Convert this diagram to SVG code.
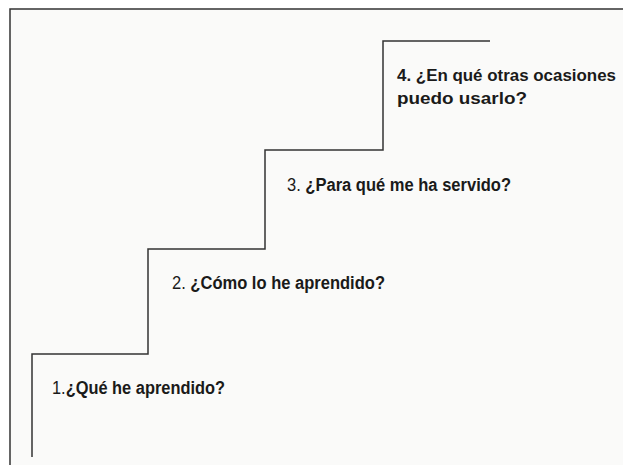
<svg xmlns="http://www.w3.org/2000/svg" width="623" height="465" viewBox="0 0 623 465">
<style>
.t{font-family:"Liberation Sans",Arial,sans-serif;font-size:18px;font-weight:bold;fill:#1a1a1a}
.s{font-size:17px}
.n{font-weight:normal}
.stair{fill:none;stroke:#333;stroke-width:1.5}
</style>
<rect x="0" y="0" width="623" height="465" fill="#ffffff"/>
<rect x="10" y="9" width="620" height="470" fill="#fafaf9" stroke="#333" stroke-width="1.5"/>
<g id="connectors">
<path class="stair" d="M32 457 V354 H148 V249 H265 V150 H383 V41 H490"/>
</g>
<g id="step1"><text class="t" x="52" y="394" textLength="173" lengthAdjust="spacingAndGlyphs"><tspan class="n">1.</tspan>¿Qué he aprendido?</text></g>
<g id="step2"><text class="t" x="172" y="289" textLength="213" lengthAdjust="spacingAndGlyphs"><tspan class="n">2.</tspan> ¿Cómo lo he aprendido?</text></g>
<g id="step3"><text class="t" x="287" y="191" textLength="224" lengthAdjust="spacingAndGlyphs"><tspan class="n">3.</tspan> ¿Para qué me ha servido?</text></g>
<g id="step4"><text class="t s" x="397" y="81" textLength="219" lengthAdjust="spacingAndGlyphs">4. ¿En qué otras ocasiones</text>
<text class="t s" x="397" y="104" textLength="130" lengthAdjust="spacingAndGlyphs">puedo usarlo?</text></g>
</svg>
